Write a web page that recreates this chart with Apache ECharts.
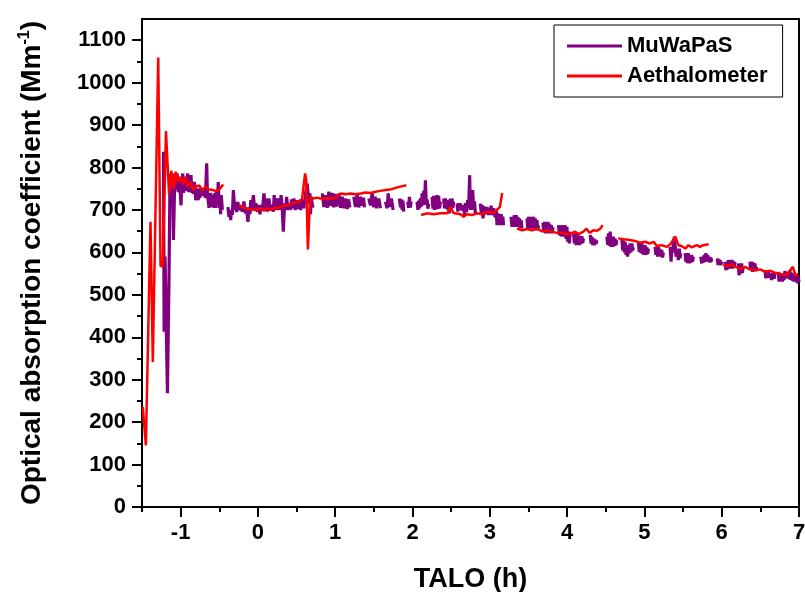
<!DOCTYPE html>
<html>
<head>
<meta charset="utf-8">
<script src="https://cdn.jsdelivr.net/npm/echarts@6/dist/echarts.min.js"></script>
<style>
  html, body { margin: 0; padding: 0; background: #fff; }
  #chart { width: 805px; height: 592px; }
</style>
</head>
<body>
<div id="chart"></div>
<script>
// Tick positions (hours after launch and absorption coefficient)
const xMajorTicks = [-1, 0, 1, 2, 3, 4, 5, 6, 7];
const xMinorTicks = [-1.5, -0.5, 0.5, 1.5, 2.5, 3.5, 4.5, 5.5, 6.5];
const yMajorTicks = [0, 100, 200, 300, 400, 500, 600, 700, 800, 900, 1000, 1100];
const yMinorTicks = [50, 150, 250, 350, 450, 550, 650, 750, 850, 950, 1050];

// MuWaPaS: [TALO (h), absorption (Mm^-1)]; null marks a gap in the record
const muwapas = [
  [-1.222,837],[-1.214,413],[-1.202,590],[-1.180,594],[-1.171,268],[-1.150,550],[-1.137,786],[-1.119,723],[-1.106,786],[-1.093,629],
  [-1.080,740],[-1.068,778],[-1.057,748],[-1.046,786],[-1.030,742],[-1.016,770],[-0.995,711],[-0.985,770],[-0.973,786],[-0.962,740],
  [-0.952,778],[-0.930,745],[-0.909,786],[-0.898,742],[-0.888,782],[-0.877,745],[-0.866,782],[-0.855,740],[-0.845,766],[-0.834,738],
  [-0.823,766],[-0.804,723],[-0.784,751],[-0.773,723],[-0.762,751],[-0.752,728],[-0.741,751],[-0.720,733],[-0.698,751],[-0.680,728],
  [-0.663,810],[-0.654,740],[-0.643,739],[-0.633,705],[-0.612,740],[-0.590,707],[-0.580,735],[-0.569,705],[-0.558,740],[-0.548,705],
  [-0.537,745],[-0.526,715],[-0.513,766],[-0.502,705],[-0.492,735],[-0.483,690],[-0.474,735],[-0.461,700],
  null,
  [-0.388,707],[-0.375,684],[-0.364,700],[-0.353,676],[-0.342,700],[-0.331,688],[-0.318,747],[-0.301,700],[-0.288,719],[-0.275,695],
  [-0.260,719],[-0.245,700],[-0.224,711],[-0.203,696],[-0.181,720],[-0.163,692],[-0.146,700],[-0.129,672],[-0.116,707],[-0.103,690],
  [-0.092,723],[-0.081,700],[-0.059,735],[-0.043,700],[-0.026,716],[-0.008,696],[0.009,712],[0.026,690],[0.042,712],[0.057,700],
  [0.078,739],[0.099,700],[0.110,727],[0.121,696],[0.142,727],[0.158,700],[0.173,712],[0.199,696],[0.210,735],[0.220,700],
  [0.242,727],[0.258,700],[0.271,727],[0.284,700],[0.300,735],[0.315,700],[0.328,649],[0.345,715],[0.358,700],[0.371,731],
  [0.386,700],[0.401,715],[0.422,700],[0.433,725],[0.444,704],[0.465,727],[0.483,700],[0.500,723],[0.515,702],[0.530,719],
  [0.552,700],[0.573,723],[0.594,704],[0.616,740],[0.638,762],[0.659,715],[0.672,739],[0.680,690],[0.690,727],[0.711,705],
  null,
  [0.832,739],[0.853,707],[0.875,735],[0.897,705],[0.917,743],[0.939,709],[0.961,740],[0.982,706],[1.000,738],[1.017,708],
  [1.047,739],[1.068,705],[1.090,731],[1.111,704],[1.133,727],[1.155,702],[1.172,725],[1.189,706],
  null,
  [1.240,731],[1.262,707],[1.284,735],[1.305,706],[1.327,731],[1.349,710],[1.365,729],[1.379,706],
  null,
  [1.434,727],[1.456,711],[1.478,739],[1.499,706],[1.517,731],[1.534,704],[1.563,727],[1.585,704],
  null,
  [1.650,719],[1.672,704],[1.685,739],[1.705,707],[1.727,727],[1.749,700],
  null,
  [1.830,727],[1.844,706],[1.855,725],[1.866,700],[1.876,722],[1.886,696],
  null,
  [1.938,719],[1.949,705],[1.960,731],[1.971,706],[1.982,720],
  null,
  [2.059,719],[2.070,700],[2.080,722],[2.091,704],[2.102,727],[2.113,708],[2.124,739],[2.135,711],[2.145,745],[2.156,720],
  [2.167,770],[2.178,712],[2.189,725],[2.199,703],[2.209,715],
  null,
  [2.253,731],[2.264,703],[2.274,733],[2.285,700],[2.295,730],[2.306,704],[2.317,735],[2.327,702],[2.338,733],[2.350,704],[2.361,720],
  null,
  [2.403,727],[2.414,704],[2.425,727],[2.436,703],[2.446,724],[2.457,700],[2.467,722],[2.478,692],[2.490,727],[2.500,700],
  [2.511,727],[2.522,705],[2.532,720],
  null,
  [2.576,715],[2.586,696],[2.597,716],[2.608,700],[2.619,715],[2.640,699],[2.661,711],[2.672,688],[2.683,716],[2.698,695],
  [2.713,723],[2.726,705],[2.739,782],[2.748,700],[2.757,730],[2.768,703],[2.778,747],[2.791,700],[2.802,720],[2.813,692],
  null,
  [2.877,715],[2.890,692],[2.901,712],[2.912,680],[2.927,708],[2.942,690],[2.963,707],[2.984,688],[2.995,705],[3.006,690],
  [3.017,710],[3.028,688],[3.050,704],[3.071,682],[3.082,700],[3.093,664],[3.104,692],[3.114,668],[3.125,690],[3.136,664],
  [3.147,690],[3.158,668],[3.168,684],[3.178,664],
  null,
  [3.274,684],[3.287,660],[3.297,684],[3.307,660],[3.318,688],[3.329,662],[3.340,688],[3.351,660],[3.362,684],[3.372,660],
  [3.383,680],[3.394,656],[3.405,676],[3.416,656],
  null,
  [3.481,680],[3.491,656],[3.501,684],[3.512,658],[3.523,680],[3.534,656],[3.545,684],[3.556,660],[3.566,684],[3.577,656],
  [3.588,680],[3.599,652],[3.610,676],[3.620,652],[3.630,664],
  null,
  [3.687,670],[3.697,648],[3.708,672],[3.719,645],[3.730,672],[3.741,648],[3.752,672],[3.763,645],[3.773,668],[3.784,648],
  [3.795,664],[3.806,645],[3.817,660],
  null,
  [3.889,664],[3.900,641],[3.911,660],[3.922,638],[3.933,664],[3.943,637],[3.953,664],[3.964,640],[3.975,664],[3.986,632],
  [3.997,660],[4.008,625],[4.018,649],[4.029,621],[4.040,649],
  null,
  [4.083,645],[4.094,621],[4.105,645],[4.116,617],[4.127,645],[4.138,617],[4.148,640],[4.159,617],[4.170,637],[4.181,620],
  [4.191,638],[4.202,622],[4.212,633],
  null,
  [4.299,641],[4.310,621],[4.320,637],[4.331,617],[4.341,633],[4.352,617],[4.363,630],[4.374,620],[4.385,629],
  null,
  [4.514,637],[4.525,618],[4.535,645],[4.546,616],[4.557,649],[4.568,613],[4.579,637],[4.589,613],[4.599,637],[4.610,615],
  [4.621,632],[4.632,617],[4.643,629],
  null,
  [4.708,633],[4.719,605],[4.729,628],[4.740,600],[4.751,625],[4.762,594],[4.773,617],[4.783,590],[4.793,617],[4.804,598],
  [4.815,621],[4.826,600],[4.837,621],[4.848,605],[4.858,612],
  null,
  [4.922,625],[4.933,601],[4.944,625],[4.955,598],[4.966,625],[4.976,596],[4.987,617],[4.998,594],[5.009,617],[5.020,594],
  [5.031,612],[5.042,596],[5.052,609],
  null,
  [5.138,613],[5.149,594],[5.160,613],[5.170,590],[5.181,613],[5.192,590],[5.203,608],[5.214,590],[5.225,605],[5.235,588],[5.245,600],
  null,
  [5.332,613],[5.345,578],[5.356,613],[5.367,600],[5.378,625],[5.388,637],[5.399,615],[5.409,590],[5.426,609],[5.439,582],
  [5.452,609],[5.461,586],[5.470,598],
  null,
  [5.526,598],[5.537,578],[5.548,598],[5.558,575],[5.568,598],[5.579,574],[5.590,594],[5.601,576],[5.612,594],[5.622,578],[5.633,590],
  null,
  [5.729,590],[5.742,574],[5.752,590],[5.762,576],[5.773,594],[5.784,578],[5.795,598],[5.806,580],[5.817,594],[5.827,578],
  [5.838,590],[5.849,576],[5.860,588],[5.871,578],
  null,
  [5.943,586],[5.952,570],[5.961,584],[5.970,570],[5.978,582],[5.989,570],[6.000,578],
  null,
  [6.043,578],[6.054,558],[6.065,574],[6.075,560],[6.085,582],[6.107,562],[6.129,582],[6.140,562],[6.150,580],[6.161,564],[6.172,578],
  null,
  [6.214,574],[6.225,546],[6.236,574],[6.247,550],[6.258,574],[6.268,552],[6.279,566],
  null,
  [6.365,578],[6.376,558],[6.388,578],[6.398,554],[6.408,576],[6.419,556],[6.430,574],[6.441,556],[6.452,566],
  null,
  [6.560,558],[6.571,539],[6.582,558],[6.592,542],[6.603,556],[6.614,540],[6.624,550],[6.645,535],[6.667,552],[6.678,538],[6.689,550],
  null,
  [6.732,554],[6.742,531],[6.753,550],[6.764,531],[6.775,550],[6.786,531],[6.796,548],[6.807,535],[6.818,556],[6.829,540],
  [6.840,554],[6.850,539],[6.860,552],[6.871,537],[6.882,558],[6.893,535],[6.904,552],[6.915,533],[6.925,550],[6.936,531],
  [6.947,546],[6.958,531],[6.969,546],[6.980,527],[6.990,542],[7.000,530]
];

// Aethalometer: [TALO (h), absorption (Mm^-1)]; null marks a gap in the record
const aethalometer = [
  [-1.49,236],[-1.45,145],[-1.39,672],[-1.36,342],[-1.29,1059],[-1.26,568],[-1.23,568],[-1.19,886],[-1.15,738],[-1.12,792],
  [-1.09,750],[-1.065,790],[-1.03,766],[-1.00,778],[-0.97,762],[-0.94,778],[-0.91,755],[-0.87,766],[-0.835,747],[-0.80,755],
  [-0.76,758],[-0.72,747],[-0.675,755],[-0.63,748],[-0.59,747],[-0.55,745],[-0.50,748],[-0.45,760],
  null,
  [-0.24,711],[-0.18,705],[-0.09,701],[-0.01,700],[0.035,704],[0.08,698],[0.12,704],[0.16,700],[0.21,705],[0.25,704],
  [0.315,709],[0.38,711],[0.44,715],[0.51,719],[0.57,725],[0.61,786],[0.625,770],[0.646,607],[0.668,700],[0.68,731],
  [0.72,727],[0.767,729],[0.81,727],[0.875,727],[0.94,727],[1.00,729],[1.07,739],[1.13,737],[1.20,739],[1.26,737],
  [1.33,739],[1.39,741],[1.46,740],[1.52,743],[1.585,745],[1.65,747],[1.71,748],[1.78,752],[1.84,755],[1.92,758],
  null,
  [2.11,688],[2.19,692],[2.27,690],[2.36,692],[2.45,692],[2.49,707],[2.53,693],[2.62,690],[2.66,684],[2.705,690],
  [2.77,688],[2.835,692],[2.90,690],[2.96,696],[3.03,693],[3.06,696],[3.09,700],[3.13,707],[3.16,740],
  null,
  [3.35,656],[3.42,652],[3.48,655],[3.545,652],[3.61,656],[3.67,650],[3.74,651],[3.80,649],[3.87,646],[3.93,646],
  [4.00,643],[4.06,645],[4.10,649],[4.15,643],[4.21,649],[4.25,656],[4.29,646],[4.34,652],[4.385,651],[4.43,656],[4.46,664],
  null,
  [4.66,633],[4.73,631],[4.79,630],[4.88,627],[4.94,623],[5.01,625],[5.07,621],[5.12,625],[5.16,615],[5.22,617],
  [5.29,613],[5.34,620],[5.37,629],[5.40,637],[5.44,617],[5.48,615],[5.53,609],[5.57,617],[5.61,612],[5.68,617],
  [5.72,613],[5.76,617],[5.83,619],
  null,
  [6.02,570],[6.085,568],[6.13,572],[6.17,566],[6.24,562],[6.30,566],[6.365,560],[6.43,558],[6.50,560],[6.56,554],
  [6.62,557],[6.69,552],[6.75,550],[6.82,546],[6.87,554],[6.92,566],[6.955,546],[6.99,549]
];

const FONT = '"Liberation Sans", Arial, Helvetica, sans-serif';
const BLACK = '#000000';
const withGaps = rows => rows.map(r => (r === null ? ['-', '-'] : r));

const labelStyle = { fontSize: 22, fontWeight: 'bold', color: BLACK, fontFamily: FONT };
const titleStyle = { fontSize: 27, fontWeight: 'bold', color: BLACK, fontFamily: FONT };
const yTitleStyle = { fontSize: 28, fontWeight: 'bold', color: BLACK, fontFamily: FONT };

const chart = echarts.init(document.getElementById('chart'), null, { renderer: 'canvas' });

chart.setOption({
  animation: false,
  backgroundColor: '#ffffff',
  grid: {
    left: 142, right: 6, top: 19, bottom: 85,
    show: true, borderColor: BLACK, borderWidth: 2, backgroundColor: 'transparent',
    containLabel: false, outerBoundsMode: 'none'
  },
  legend: {
    orient: 'vertical',
    left: 554, top: 25,
    padding: [10, 15, 10, 13],
    itemGap: 8, itemWidth: 55, itemHeight: 3,
    icon: 'rect',
    borderColor: BLACK, borderWidth: 1,
    backgroundColor: '#ffffff',
    textStyle: labelStyle,
    data: ['MuWaPaS', 'Aethalometer']
  },
  xAxis: [
    {
      type: 'value', min: -1.5, max: 7, position: 'bottom',
      axisLine: { show: true, onZero: false, lineStyle: { color: BLACK, width: 2 } },
      axisTick: { show: true, inside: false, length: 10, customValues: xMajorTicks,
                  lineStyle: { color: BLACK, width: 2 } },
      axisLabel: { show: true, margin: 15, customValues: xMajorTicks, ...labelStyle,
                   formatter: v => String(v) },
      splitLine: { show: false },
      name: 'TALO (h)', nameLocation: 'middle', nameGap: 59, nameMoveOverlap: false,
      nameTextStyle: titleStyle
    },
    {
      type: 'value', min: -1.5, max: 7, position: 'bottom', offset: 0,
      axisLine: { show: false, onZero: false },
      axisTick: { show: true, inside: false, length: 5, customValues: xMinorTicks,
                  lineStyle: { color: BLACK, width: 2 } },
      axisLabel: { show: false },
      splitLine: { show: false }
    }
  ],
  yAxis: [
    {
      type: 'value', min: 0, max: 1150, position: 'left',
      axisLine: { show: true, onZero: false, lineStyle: { color: BLACK, width: 2 } },
      axisTick: { show: true, inside: false, length: 10, customValues: yMajorTicks,
                  lineStyle: { color: BLACK, width: 2 } },
      axisLabel: { show: true, margin: 16, customValues: yMajorTicks, ...labelStyle,
                   formatter: v => String(v) },
      splitLine: { show: false },
      name: '{t|Optical absorption coefficient (Mm}{s|-1}{t|)}',
      nameLocation: 'middle', nameRotate: 90, nameGap: 94, nameMoveOverlap: false,
      nameTextStyle: {
        ...yTitleStyle,
        rich: {
          t: { ...yTitleStyle, lineHeight: 31 },
          s: { fontSize: 16, fontWeight: 'bold', color: BLACK, fontFamily: FONT,
               lineHeight: 16, verticalAlign: 'top' }
        }
      }
    },
    {
      type: 'value', min: 0, max: 1150, position: 'left', offset: 0,
      axisLine: { show: false, onZero: false },
      axisTick: { show: true, inside: false, length: 5, customValues: yMinorTicks,
                  lineStyle: { color: BLACK, width: 2 } },
      axisLabel: { show: false },
      splitLine: { show: false }
    }
  ],
  series: [
    {
      name: 'MuWaPaS', type: 'line', xAxisIndex: 0, yAxisIndex: 0,
      data: withGaps(muwapas),
      symbol: 'none', connectNulls: false, silent: true, z: 2,
      lineStyle: { color: '#800080', width: 3.2 },
      itemStyle: { color: '#800080' }
    },
    {
      name: 'Aethalometer', type: 'line', xAxisIndex: 0, yAxisIndex: 0,
      data: withGaps(aethalometer),
      symbol: 'none', connectNulls: false, silent: true, z: 3,
      lineStyle: { color: '#ff0000', width: 2.5 },
      itemStyle: { color: '#ff0000' }
    }
  ]
});
</script>
</body>
</html>
